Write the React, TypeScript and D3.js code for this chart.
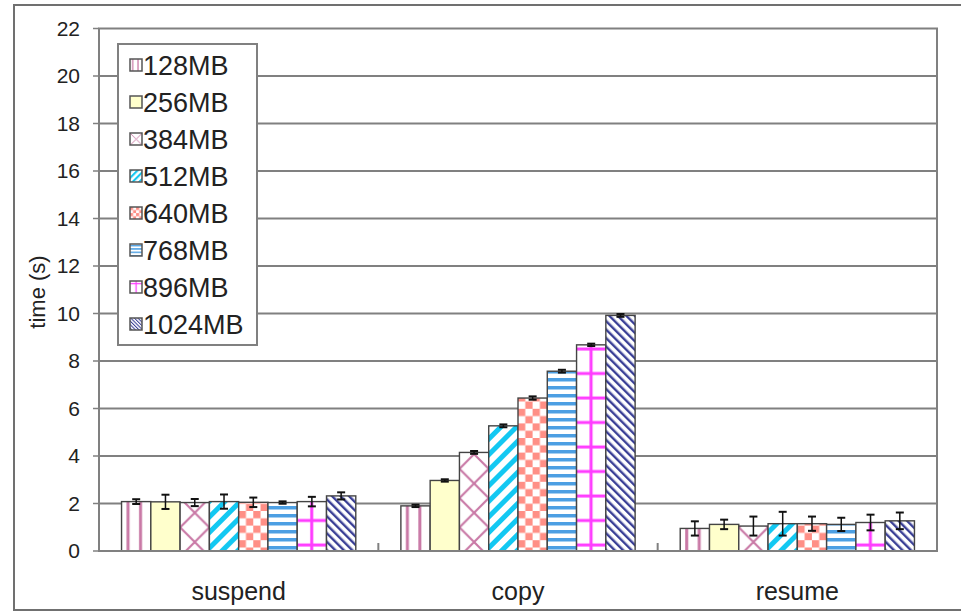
import React from "react";
import * as d3 from "d3";

// Phases of the migration and the memory sizes compared in each phase
const categories = ["suspend", "copy", "resume"];
const series = ["128MB", "256MB", "384MB", "512MB", "640MB", "768MB", "896MB", "1024MB"];

// Mean time (s) per memory size, one array per phase
const suspendTimes = [2.08, 2.07, 2.04, 2.08, 2.05, 2.04, 2.08, 2.32];
const copyTimes = [1.9, 2.97, 4.15, 5.27, 6.44, 7.57, 8.68, 9.92];
const resumeTimes = [0.95, 1.12, 1.05, 1.15, 1.15, 1.12, 1.2, 1.27];

// Half-width of the error bars (s)
const suspendErr = [0.1, 0.3, 0.15, 0.3, 0.2, 0.05, 0.2, 0.15];
const copyErr = [0.05, 0.05, 0.06, 0.06, 0.07, 0.06, 0.05, 0.06];
const resumeErr = [0.3, 0.2, 0.4, 0.5, 0.3, 0.28, 0.33, 0.35];

const yTicks = [0, 2, 4, 6, 8, 10, 12, 14, 16, 18, 20, 22];

const times = [suspendTimes, copyTimes, resumeTimes];
const errs = [suspendErr, copyErr, resumeErr];

const FONT = "'Liberation Sans', Arial, sans-serif";
const GRID = "#808080";

const plot = { left: 99, right: 937, top: 28.5, bottom: 551 };

const x0 = d3.scaleBand<string>().domain(categories).range([plot.left, plot.right]);
const x1 = d3
  .scaleBand<string>()
  .domain(series)
  .range([0, x0.bandwidth()])
  .paddingInner(0)
  .paddingOuter(0.77);
const y = d3.scaleLinear().domain([0, 22]).range([plot.bottom, plot.top]);

const PINK = "#c979a6";
const CYAN = "#13c8f2";
const SALMON = "#ff8f86";
const BLUE = "#4c9fe3";
const MAGENTA = "#ff3cff";
const NAVY = "#3a3f96";
const YELLOW = "#ffffcc";

// Fill pattern for one series, with its tile anchored at (ox, oy)
function seriesPattern(id: string, si: number, ox: number, oy: number, s = 1) {
  const common = { id, patternUnits: "userSpaceOnUse" as const, x: ox, y: oy };
  switch (si) {
    case 0:
      return (
        <pattern key={id} {...common} width={12.5 * s} height={10}>
          <rect width={12.5 * s} height={10} fill="#fff" />
          <rect x={5 * s} width={3 * s} height={10} fill={PINK} />
        </pattern>
      );
    case 1:
      return (
        <pattern key={id} {...common} width={10} height={10}>
          <rect width={10} height={10} fill={YELLOW} />
        </pattern>
      );
    case 2: {
      const w = 29.3 * s;
      return (
        <pattern key={id} {...common} width={w} height={w}>
          <rect width={w} height={w} fill="#fff" />
          <path
            d={`M0,0L${w},${w}M${w},0L0,${w}M${-w / 2},${w / 2}L${w / 2},${-w / 2}M${w / 2},${w * 1.5}L${w * 1.5},${w / 2}`}
            stroke={PINK}
            strokeWidth={2.2 * s}
          />
        </pattern>
      );
    }
    case 3:
      return (
        <pattern
          key={id}
          {...common}
          width={11 * s}
          height={20}
          patternTransform={`rotate(45 ${ox} ${oy})`}
        >
          <rect width={11 * s} height={20} fill="#fff" />
          <rect width={5 * s} height={20} fill={CYAN} />
        </pattern>
      );
    case 4: {
      const c = 7.3 * s;
      return (
        <pattern key={id} {...common} width={2 * c} height={2 * c}>
          <rect width={2 * c} height={2 * c} fill="#fff" />
          <rect width={c} height={c} fill={SALMON} />
          <rect x={c} y={c} width={c} height={c} fill={SALMON} />
        </pattern>
      );
    }
    case 5:
      return (
        <pattern key={id} {...common} width={10} height={8 * s}>
          <rect width={10} height={8 * s} fill="#fff" />
          <rect y={2 * s} width={10} height={3.5 * s} fill={BLUE} />
        </pattern>
      );
    case 6:
      return (
        <pattern key={id} {...common} width={29.3 * s} height={24.5 * s}>
          <rect width={29.3 * s} height={24.5 * s} fill="#fff" />
          <rect x={13 * s} width={3 * s} height={24.5 * s} fill={MAGENTA} />
          <rect y={4.5 * s} width={29.3 * s} height={3 * s} fill={MAGENTA} />
        </pattern>
      );
    default:
      return (
        <pattern
          key={id}
          {...common}
          width={6 * s}
          height={20}
          patternTransform={`rotate(-45 ${ox} ${oy})`}
        >
          <rect width={6 * s} height={20} fill="#fff" />
          <rect width={2.4 * s} height={20} fill={NAVY} />
        </pattern>
      );
  }
}

const legend = { x: 118, y: 44, w: 139, h: 301, rowY0: 65, step: 37 };

export default function App() {
  const barW = x1.bandwidth();
  const bars: { gi: number; si: number; x: number; v: number; e: number }[] = [];
  categories.forEach((c, gi) => {
    series.forEach((s, si) => {
      bars.push({ gi, si, x: (x0(c) ?? 0) + (x1(s) ?? 0), v: times[gi][si], e: errs[gi][si] });
    });
  });

  return (
    <svg
      width={961}
      height={613}
      style={{ position: "absolute", left: 0, top: 0, background: "#fff" }}
      fontFamily={FONT}
    >
      <defs>
        {bars.map((b) => seriesPattern(`bar-${b.gi}-${b.si}`, b.si, b.x, 0))}
        {series.map((s, si) =>
          seriesPattern(`leg-${si}`, si, legend.x + 12, legend.rowY0 + si * legend.step - 6, 0.42)
        )}
      </defs>

      {/* outer frame */}
      <rect x={14} y={5} width={980} height={605} fill="#fff" stroke="#707070" strokeWidth={2} />

      {/* gridlines */}
      {yTicks
        .filter((t) => t > 0 && t < 22)
        .map((t) => (
          <line key={t} x1={plot.left} x2={plot.right} y1={y(t)} y2={y(t)} stroke={GRID} strokeWidth={2} />
        ))}

      {/* y tick marks and labels */}
      {yTicks.map((t) => (
        <g key={`yt${t}`}>
          <line x1={plot.left - 6} x2={plot.left} y1={y(t)} y2={y(t)} stroke={GRID} strokeWidth={1.5} />
          <text x={80} y={y(t)} dy="0.35em" textAnchor="end" fontSize={21} fill="#222">
            {t}
          </text>
        </g>
      ))}

      <text
        transform={`translate(45, ${292}) rotate(-90)`}
        textAnchor="middle"
        fontSize={22}
        fill="#222"
      >
        time (s)
      </text>

      {/* bars */}
      {bars.map((b) => (
        <rect
          key={`b${b.gi}-${b.si}`}
          x={b.x}
          y={y(b.v)}
          width={barW}
          height={y(0) - y(b.v)}
          fill={`url(#bar-${b.gi}-${b.si})`}
          stroke="#444"
          strokeWidth={1.4}
        />
      ))}

      {/* error bars */}
      {bars.map((b) => {
        const cx = b.x + barW / 2;
        return (
          <g key={`e${b.gi}-${b.si}`} stroke="#111">
            <line x1={cx} x2={cx} y1={y(b.v + b.e)} y2={y(b.v - b.e)} strokeWidth={1.5} />
            <line x1={cx - 4} x2={cx + 4} y1={y(b.v + b.e)} y2={y(b.v + b.e)} strokeWidth={2} />
            <line x1={cx - 4} x2={cx + 4} y1={y(b.v - b.e)} y2={y(b.v - b.e)} strokeWidth={2} />
          </g>
        );
      })}

      {/* plot border */}
      <rect
        x={plot.left}
        y={plot.top}
        width={plot.right - plot.left}
        height={plot.bottom - plot.top}
        fill="none"
        stroke={GRID}
        strokeWidth={2}
      />

      {/* category separators and labels */}
      {categories.slice(1).map((c) => (
        <line
          key={`ct${c}`}
          x1={x0(c)}
          x2={x0(c)}
          y1={plot.bottom}
          y2={plot.bottom - 8}
          stroke={GRID}
          strokeWidth={2}
        />
      ))}
      {categories.map((c) => (
        <text
          key={`cl${c}`}
          x={(x0(c) ?? 0) + x0.bandwidth() / 2}
          y={591}
          dy="0.35em"
          textAnchor="middle"
          fontSize={25}
          fill="#222"
        >
          {c}
        </text>
      ))}

      {/* legend */}
      <rect
        x={legend.x}
        y={legend.y}
        width={legend.w}
        height={legend.h}
        fill="#fff"
        stroke="#808080"
        strokeWidth={2}
      />
      {series.map((s, si) => {
        const cy = legend.rowY0 + si * legend.step;
        return (
          <g key={`lg${s}`}>
            <rect
              x={legend.x + 12}
              y={cy - 6}
              width={12}
              height={12}
              fill={`url(#leg-${si})`}
              stroke="#555"
              strokeWidth={1.5}
            />
            <text x={legend.x + 25} y={cy} dy="0.36em" fontSize={27} fill="#222">
              {s}
            </text>
          </g>
        );
      })}
    </svg>
  );
}
